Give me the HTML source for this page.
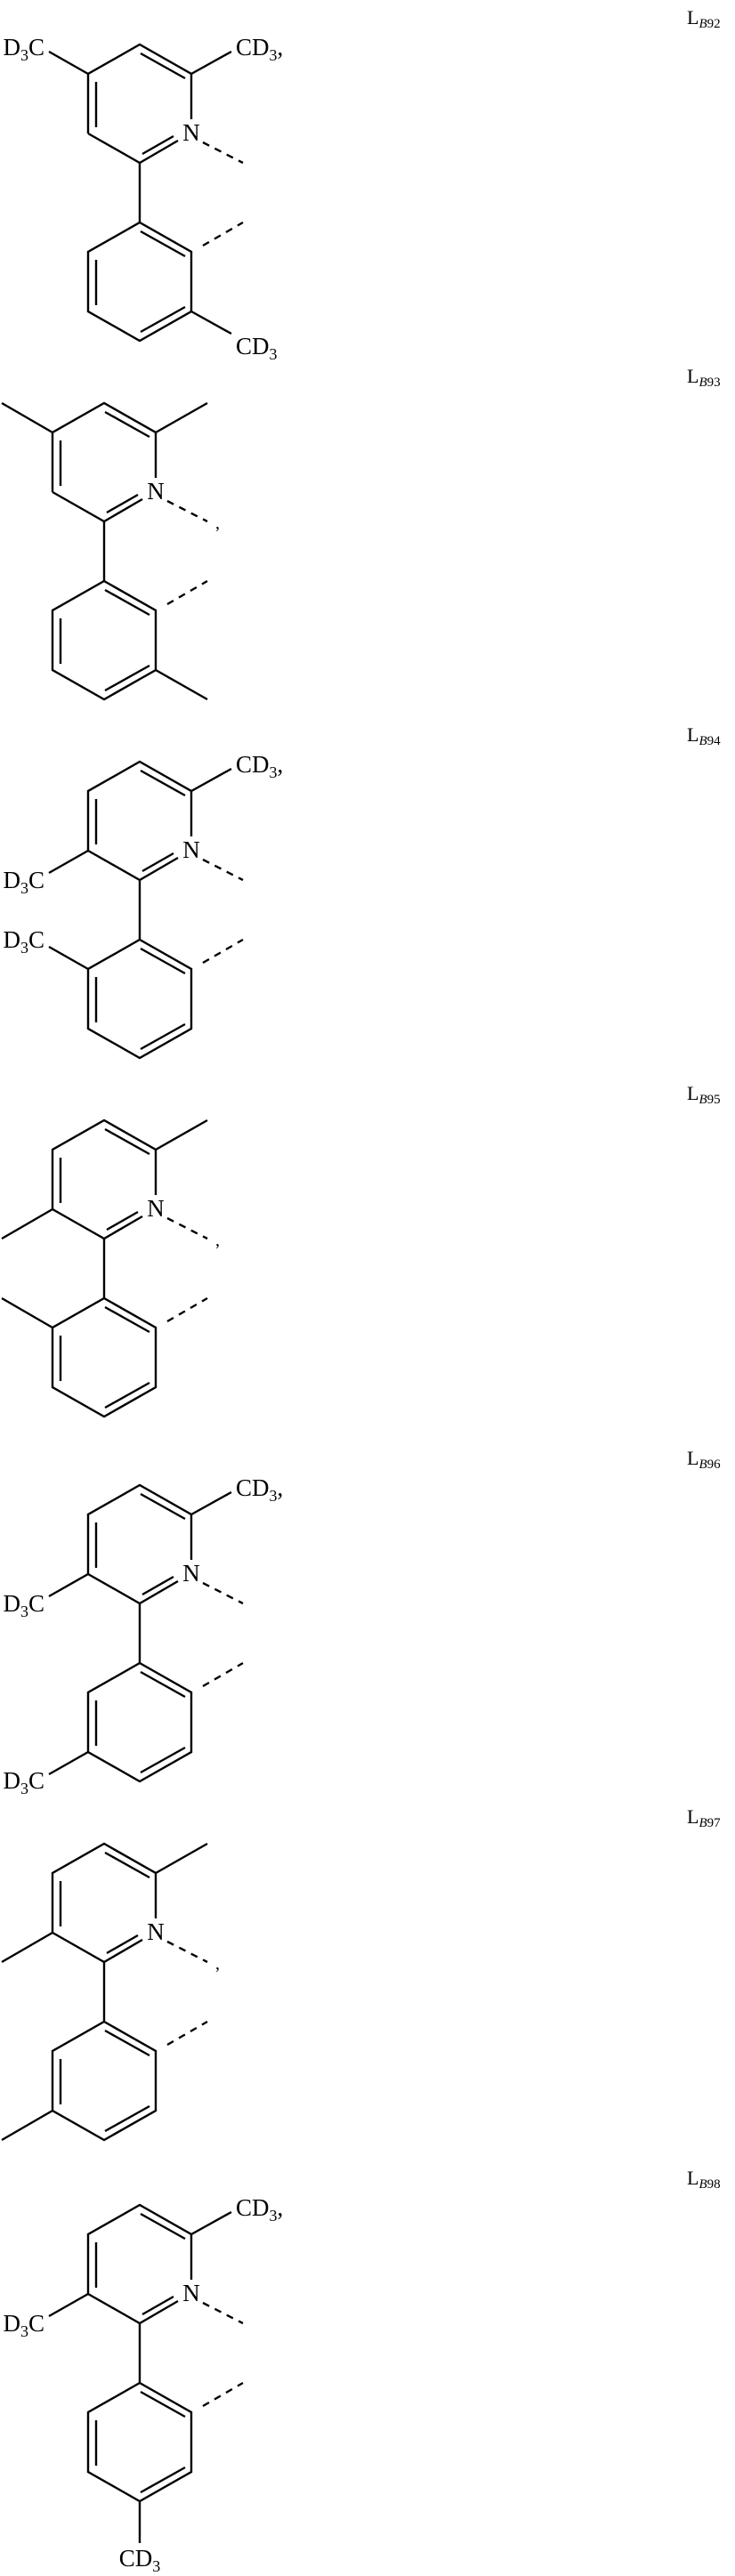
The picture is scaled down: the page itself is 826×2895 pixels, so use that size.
<!DOCTYPE html>
<html><head><meta charset="utf-8"><style>
html,body{margin:0;padding:0;background:#fff;}
svg{display:block;}
text{font-family:"Liberation Serif",serif;fill:#000;}
</style></head><body>
<svg width="826" height="2895" viewBox="0 0 826 2895" xmlns="http://www.w3.org/2000/svg">
<defs>
<g id="sk" fill="none" stroke="#000" stroke-width="2.4">
<path d="M-58,100 L-58,33 L0,0 L58,33 L58,84 M43,108 L0,133 L-58,100"/>
<path d="M1,10 L51,38 M-49,42 L-49,93 M3,123 L38,103"/>
<path d="M0,133 L0,200"/>
<path d="M0,200 L58,233 L58,300 L0,333 L-58,300 L-58,233 Z"/>
<path d="M1,210 L51,238 M-49,242 L-49,293 M1,323 L51,295"/>
<path d="M71,110 L116,133 M71,226 L116,200" stroke-dasharray="8,7"/>
<text x="58" y="108" text-anchor="middle" font-size="27" stroke="none" fill="#000">N</text>
</g>
</defs>
<g stroke="#000" stroke-width="2.4" fill="none">
<!-- S1 -->
<path d="M99,83 L55,58 M215,83 L260,58 M215,350 L260,375"/>
<!-- S2 -->
<path d="M59,486 L2,453 M175,486 L233,453 M175,753 L233,786"/>
<!-- S3 -->
<path d="M215,889 L260,864 M99,956 L55,981 M99,1089 L55,1064"/>
<!-- S4 -->
<path d="M175,1292 L233,1259 M59,1359 L2,1392 M59,1492 L2,1459"/>
<!-- S5 -->
<path d="M215,1702 L260,1677 M99,1769 L55,1794 M99,1969 L55,1994"/>
<!-- S6 -->
<path d="M175,2105 L233,2072 M59,2172 L2,2205 M59,2372 L2,2405"/>
<!-- S7 -->
<path d="M215,2511 L260,2486 M99,2578 L55,2603 M157,2811 L157,2858"/>
</g>
<use href="#sk" transform="translate(157,50)"/>
<use href="#sk" transform="translate(117,453)"/>
<use href="#sk" transform="translate(157,856)"/>
<use href="#sk" transform="translate(117,1259)"/>
<use href="#sk" transform="translate(157,1669)"/>
<use href="#sk" transform="translate(117,2072)"/>
<use href="#sk" transform="translate(157,2478)"/>

<g font-size="27">
<!-- S1 -->
<text x="50" y="62" text-anchor="end">D<tspan font-size="18" dy="6">3</tspan><tspan dy="-6">C</tspan></text>
<text x="265" y="62">CD<tspan font-size="18" dy="6">3</tspan><tspan dy="-6">,</tspan></text>
<text x="265" y="398">CD<tspan font-size="18" dy="6">3</tspan></text>
<!-- S2 comma -->
<text x="242" y="594" font-size="20">,</text>
<!-- S3 -->
<text x="265" y="868">CD<tspan font-size="18" dy="6">3</tspan><tspan dy="-6">,</tspan></text>
<text x="50" y="998" text-anchor="end">D<tspan font-size="18" dy="6">3</tspan><tspan dy="-6">C</tspan></text>
<text x="50" y="1065" text-anchor="end">D<tspan font-size="18" dy="6">3</tspan><tspan dy="-6">C</tspan></text>
<!-- S4 comma -->
<text x="242" y="1400" font-size="20">,</text>
<!-- S5 -->
<text x="265" y="1681">CD<tspan font-size="18" dy="6">3</tspan><tspan dy="-6">,</tspan></text>
<text x="50" y="1811" text-anchor="end">D<tspan font-size="18" dy="6">3</tspan><tspan dy="-6">C</tspan></text>
<text x="50" y="2010" text-anchor="end">D<tspan font-size="18" dy="6">3</tspan><tspan dy="-6">C</tspan></text>
<!-- S6 comma -->
<text x="242" y="2213" font-size="20">,</text>
<!-- S7 -->
<text x="265" y="2490">CD<tspan font-size="18" dy="6">3</tspan><tspan dy="-6">,</tspan></text>
<text x="50" y="2620" text-anchor="end">D<tspan font-size="18" dy="6">3</tspan><tspan dy="-6">C</tspan></text>
<text x="157" y="2884" text-anchor="middle">CD<tspan font-size="18" dy="6">3</tspan></text>
</g>

<g font-size="22">
<text x="772" y="27">L<tspan font-size="15" dy="4" font-style="italic">B</tspan><tspan font-size="15">92</tspan></text>
<text x="772" y="430">L<tspan font-size="15" dy="4" font-style="italic">B</tspan><tspan font-size="15">93</tspan></text>
<text x="772" y="833">L<tspan font-size="15" dy="4" font-style="italic">B</tspan><tspan font-size="15">94</tspan></text>
<text x="772" y="1236">L<tspan font-size="15" dy="4" font-style="italic">B</tspan><tspan font-size="15">95</tspan></text>
<text x="772" y="1646">L<tspan font-size="15" dy="4" font-style="italic">B</tspan><tspan font-size="15">96</tspan></text>
<text x="772" y="2049">L<tspan font-size="15" dy="4" font-style="italic">B</tspan><tspan font-size="15">97</tspan></text>
<text x="772" y="2455">L<tspan font-size="15" dy="4" font-style="italic">B</tspan><tspan font-size="15">98</tspan></text>
</g>
</svg>
</body></html>
